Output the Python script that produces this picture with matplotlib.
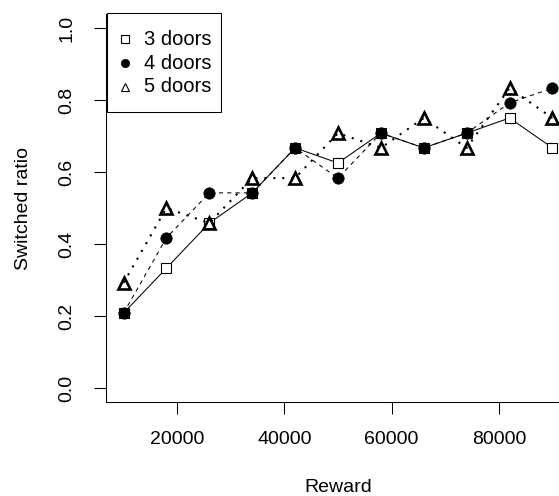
import matplotlib
matplotlib.use("Agg")
import matplotlib.pyplot as plt
from matplotlib.lines import Line2D
from matplotlib.patches import Rectangle

plt.rcParams['font.family'] = ['Liberation Sans', 'DejaVu Sans']

reward = [10000, 18000, 26000, 34000, 42000, 50000, 58000, 66000, 74000, 82000, 90000]
doors3 = [0.208, 0.333, 0.458, 0.542, 0.667, 0.625, 0.708, 0.667, 0.708, 0.750, 0.667]
doors4 = [0.208, 0.417, 0.542, 0.542, 0.667, 0.583, 0.708, 0.667, 0.708, 0.792, 0.833]
doors5 = [0.292, 0.500, 0.458, 0.583, 0.583, 0.708, 0.667, 0.750, 0.667, 0.833, 0.750]
series_labels = ["3 doors", "4 doors", "5 doors"]
xticks = [20000, 40000, 60000, 80000]
yticks = [0.0, 0.2, 0.4, 0.6, 0.8, 1.0]

W, H = 559, 496
fig = plt.figure(figsize=(W / 100, H / 100), dpi=100)
px = 1.0 / W
py = 1.0 / H
left, right, top, bottom = 106.4, 569.6, 13.6, 402.4
ax = fig.add_axes([left * px, 1 - bottom * py, (right - left) * px, (bottom - top) * py])

ax.plot(reward, doors3, color='black', lw=0.75, linestyle='-', marker='s',
        ms=7.2, mfc='white', mec='black', mew=0.8, zorder=3, clip_on=False)
ax.plot(reward, doors4, color='black', lw=0.75, linestyle=(0, (4, 4)), marker='o',
        ms=8.2, mfc='black', mec='black', mew=0.5, zorder=4, clip_on=False)
ax.plot(reward, doors5, color='black', lw=1.5, linestyle=(0, (1, 3.3)),
        dash_capstyle='butt', marker='^', ms=8.2, mfc='none', mec='black',
        mew=1.9, zorder=5, clip_on=False)

ax.set_xlim(6800, 93200)
ax.set_ylim(-0.04, 1.04)
ax.set_xticks(xticks)
ax.set_xticklabels([str(t) for t in xticks])
ax.set_yticks(yticks)
ax.set_yticklabels([f"{t:.1f}" for t in yticks], rotation=90, va='center')
ax.tick_params(axis='both', length=8.6, width=0.75, labelsize=14, direction='out')
ax.tick_params(axis='x', pad=12)
ax.tick_params(axis='y', pad=14)
for s in ['top', 'right']:
    ax.spines[s].set_visible(False)
for s in ['left', 'bottom']:
    ax.spines[s].set_linewidth(0.75)

ax.set_xlabel("Reward", fontsize=14)
ax.xaxis.set_label_coords(0.5, -0.2176)
ax.xaxis.label.set_va('center')
ax.set_ylabel("Switched ratio", fontsize=14)
ax.yaxis.set_label_coords(-0.178, 0.5)
ax.yaxis.label.set_va('center')

# legend (manual, R-style)
lx0, lx1, ly0, ly1 = 106.7, 220.7, 13.3, 112.3
fig.add_artist(Rectangle((lx0 * px, 1 - ly1 * py), (lx1 - lx0) * px, (ly1 - ly0) * py,
                         transform=fig.transFigure, facecolor='white',
                         edgecolor='black', lw=0.75, zorder=10))
rows = [39.3, 63.3, 86.7]
mk = [dict(marker='s', ms=5.5, mfc='white', mew=0.8),
      dict(marker='o', ms=6.0, mfc='black', mew=0.5),
      dict(marker='^', ms=6.3, mfc='white', mew=0.8)]
for yy, lab, m in zip(rows, series_labels, mk):
    fig.add_artist(Line2D([125 * px], [1 - yy * py], transform=fig.transFigure,
                          linestyle='none', mec='black', zorder=11, **m))
    fig.text(143.5 * px, 1 - yy * py, lab, fontsize=14.5, va='center', ha='left', zorder=11)

fig.savefig("out.png", dpi=100)
